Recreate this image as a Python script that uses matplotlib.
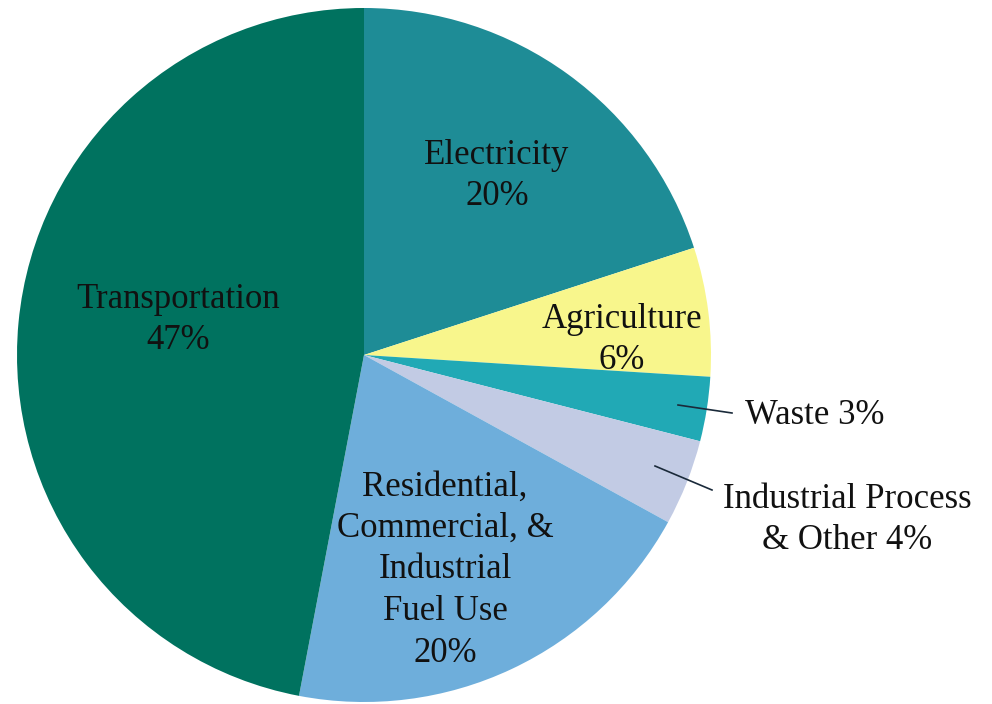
import matplotlib.pyplot as plt

# sector data, clockwise from 12 o'clock
sectors = ["Electricity", "Agriculture", "Waste", "Industrial Process & Other",
           "Residential, Commercial, & Industrial Fuel Use", "Transportation"]
shares = [20, 6, 3, 4, 20, 47]
colors = ["#1e8c96", "#f8f68c", "#21a9b5", "#c2cbe4", "#6eaedb", "#00725f"]

W, H = 992, 704
cx, cy, r = 364, H - 355, 347

fig = plt.figure(figsize=(W / 100, H / 100), dpi=100)
ax = fig.add_axes([0, 0, 1, 1])
ax.pie(shares, colors=colors, startangle=90, counterclock=False,
       center=(cx, cy), radius=r, wedgeprops=dict(linewidth=0))
ax.set_xlim(0, W)
ax.set_ylim(0, H)
ax.set_aspect("equal")
ax.axis("off")

font = dict(family="Liberation Serif", fontsize=25, color="#111111",
            ha="center", va="center", linespacing=1.34)


def label(x, y, s, **kw):
    opts = dict(font)
    opts.update(kw)
    ax.text(x, H - y, s, **opts)


label(497, 176, "Electricity\n%d%%" % shares[0])
label(622, 340, "Agriculture\n%d%%" % shares[1])
label(745, 416, "Waste %d%%" % shares[2], ha="left")
label(847, 520, "Industrial Process\n& Other %d%%" % shares[3])
label(445, 570, "Residential,\nCommercial, &\nIndustrial\nFuel Use\n%d%%" % shares[4])
label(178, 320, "Transportation\n%d%%" % shares[5])

# leader lines for the small slices
ax.plot([678, 732], [H - 405, H - 413], color="#1a2a3a", lw=1.2)
ax.plot([655, 712], [H - 466, H - 490], color="#1a2a3a", lw=1.2)

fig.savefig("out.png", dpi=100)
